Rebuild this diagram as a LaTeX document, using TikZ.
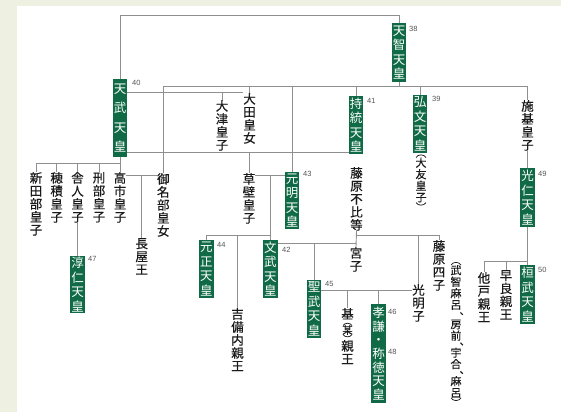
\documentclass[tikz,border=0pt]{standalone}
\usepackage{fontspec}
\usetikzlibrary{calc}
\newfontfamily\cjk{Noto Sans CJK JP}
\newfontfamily\cjkb[FakeBold=0.4]{Noto Sans CJK JP}
\newfontfamily\numfont{Liberation Sans}
\definecolor{boxgreen}{HTML}{0F6A45}
\definecolor{linegray}{HTML}{8F8F8F}
\definecolor{numgray}{HTML}{555555}
\definecolor{bgleft}{HTML}{EEF1E1}
\definecolor{txt}{HTML}{1A1A1A}
\begin{document}
\begin{tikzpicture}[x=1pt,y=-1pt,
  vt/.style={font=\cjkb\fontsize{12.5}{13}\selectfont, align=center, inner sep=0pt, text=txt, anchor=north},
  vts/.style={vt, font=\cjkb\fontsize{11}{11.5}\selectfont},
  commastyle/.style={font=\cjkb\fontsize{10}{10}\selectfont, inner sep=0pt, text=txt, anchor=base west},
  gbox/.style={fill=boxgreen, text=white, font=\cjk\fontsize{12.5}{14.5}\selectfont, align=center, inner sep=0pt, minimum width=14.5pt},
  num/.style={font=\numfont\fontsize{7.5}{8}\selectfont, text=numgray, inner sep=0pt, anchor=west},
  conn/.style={draw=linegray, line width=0.9pt},
  paren/.style={draw=txt, line width=0.75pt}]
\fill[bgleft] (0,0) rectangle (561,412);
\fill[white] (17,6) rectangle (561,412);
\useasboundingbox (0,0) rectangle (561,412);

% level coordinates
\coordinate (ytop) at (0,15);
\coordinate (ybar) at (0,86);
\coordinate (yota) at (0,92);
\coordinate (ytj) at (0,152.5);
\coordinate (ykids) at (0,163);
\coordinate (ytm) at (0,175);
\coordinate (ykg) at (0,175);
\coordinate (ykgk) at (0,235);
\coordinate (yfk) at (0,235);
\coordinate (ymm) at (0,243);
\coordinate (ysk) at (0,290.5);
\coordinate (ykn) at (0,261);

% green boxes
\node[gbox, minimum height=59pt] (tenji) at (399,52.5) {天\\智\\天\\皇};
\node[gbox, minimum height=78pt, font=\cjk\fontsize{12.5}{19.5}\selectfont] (tenmu) at (120,118) {天\\武\\天\\皇};
\node[gbox, minimum height=58pt] (jito) at (356,125) {持\\統\\天\\皇};
\node[gbox, minimum height=58pt] (kobun) at (420,124) {弘\\文\\天\\皇};
\node[gbox, minimum height=57pt] (genmei) at (292,200.5) {元\\明\\天\\皇};
\node[gbox, minimum height=58pt] (gensho) at (206.3,269) {元\\正\\天\\皇};
\node[gbox, minimum height=58pt] (monmu) at (270.3,269) {文\\武\\天\\皇};
\node[gbox, minimum height=58pt] (shomu) at (314,309) {聖\\武\\天\\皇};
\node[gbox, minimum height=99pt, font=\cjk\fontsize{12.5}{13.7}\selectfont] (koken) at (378.5,353.5) {孝\\謙\\・\\称\\徳\\天\\皇};
\node[gbox, minimum height=57pt] (junnin) at (77.5,284.5) {淳\\仁\\天\\皇};
\node[gbox, minimum height=59pt] (konin) at (527.5,197.5) {光\\仁\\天\\皇};
\node[gbox, minimum height=59pt] (kanmu) at (527.5,294.5) {桓\\武\\天\\皇};

% numbers
\node[num] (n38) at (409,29) {38};
\node[num] (n40) at (132,83) {40};
\node[num] (n41) at (367,101) {41};
\node[num] (n39) at (432,99) {39};
\node[num] (n43) at (303,174) {43};
\node[num] (n44) at (217,245) {44};
\node[num] (n42) at (282,250) {42};
\node[num] (n45) at (325,284) {45};
\node[num] (n46) at (388,312) {46};
\node[num] (n48) at (388,352) {48};
\node[num] (n47) at (88,259) {47};
\node[num] (n49) at (538,174) {49};
\node[num] (n50) at (538,270) {50};

% black text
\node[vt] (ota) at (249.5,93) {大\\田\\皇\\女};
\node[vt] (otsu) at (222,100) {大\\津\\皇\\子};
\node[vt] (niitabe) at (36,172) {新\\田\\部\\皇\\子};
\node[vt] (hozumi) at (56.7,172) {穂\\積\\皇\\子};
\node[vt] (toneri) at (77.5,172) {舎\\人\\皇\\子};
\node[vt] (osakabe) at (99,172) {刑\\部\\皇\\子};
\node[vt] (takechi) at (120,172) {高\\市\\皇\\子};
\node[vt] (mina) at (163.3,173) {御\\名\\部\\皇\\女};
\node[vt] (nagaya) at (141.7,238) {長\\屋\\王};
\node[vt] (kusakabe) at (249,173) {草\\壁\\皇\\子};
\node[vt] (kibi) at (237.5,308) {吉\\備\\内\\親\\王};
\node[vt] (fuhito) at (356.5,167) {藤\\原\\不\\比\\等};
\node[vt] (miyako) at (356,247) {宮\\子};
\node[vt] (komyo) at (418.5,284) {光\\明\\子};
\node[vt] (shishi) at (439,240) {藤\\原\\四\\子};
\node[vt] (shiki) at (527.5,100) {施\\基\\皇\\子};
\node[vt] (osabe) at (484,272) {他\\戸\\親\\王};
\node[vt] (sawara) at (506,270) {早\\良\\親\\王};

% (大友皇子)
\node[vts] (otomo) at (421,157.5) {大\\友\\皇\\子};
\draw[paren] ($(otomo.north)+(-5,0)$) .. controls ($(otomo.north)+(-3,-3.5)$) and ($(otomo.north)+(3,-3.5)$) .. ($(otomo.north)+(5,0)$);
\draw[paren] ($(otomo.south)+(-5,0)$) .. controls ($(otomo.south)+(-3,3.5)$) and ($(otomo.south)+(3,3.5)$) .. ($(otomo.south)+(5,0)$);

% (武智麻呂、房前、宇合、麻呂)
\node[vts] (sonsA) at (456,265) {武\\智\\麻\\呂};
\node[vts] (sonsB) at ($(sonsA.south)+(0,9.5)$) {房\\前};
\node[vts] (sonsC) at ($(sonsB.south)+(0,6.5)$) {宇\\合};
\node[vts] (sonsD) at ($(sonsC.south)+(0,6.5)$) {麻\\呂};
\node[commastyle] (c1) at ($(sonsA.south)+(3.5,4.5)$) {\smash{、}};
\node[commastyle] (c2) at ($(sonsB.south)+(3.5,4)$) {\smash{、}};
\node[commastyle] (c3) at ($(sonsC.south)+(3.5,4)$) {\smash{、}};
\draw[paren] ($(sonsA.north)+(-5,0)$) .. controls ($(sonsA.north)+(-3,-3.5)$) and ($(sonsA.north)+(3,-3.5)$) .. ($(sonsA.north)+(5,0)$);
\draw[paren] ($(sonsD.south)+(-5,0)$) .. controls ($(sonsD.south)+(-3,3.5)$) and ($(sonsD.south)+(3,3.5)$) .. ($(sonsD.south)+(5,0)$);

% 基(某)親王
\node[vt] (motoi) at (347.5,308) {基};
\node[vt, font=\cjkb\fontsize{10.5}{11}\selectfont] (bou) at (347.5,325) {某};
\node[vt] (motoiB) at (347.5,340) {親\\王};
\draw[paren] ($(bou.north)+(-4.5,0.5)$) .. controls ($(bou.north)+(-2.5,-2.5)$) and ($(bou.north)+(2.5,-2.5)$) .. ($(bou.north)+(4.5,0.5)$);
\draw[paren] ($(bou.south)+(-4.5,-0.5)$) .. controls ($(bou.south)+(-2.5,2.5)$) and ($(bou.south)+(2.5,2.5)$) .. ($(bou.south)+(4.5,-0.5)$);

% connectors
\draw[conn] (tenmu.north) |- (tenji.north |- ytop) -- (tenji.north);
\draw[conn] (tenji.south) -- (tenji.south |- ybar);
\draw[conn] (mina.north) |- (shiki.north |- ybar) -- (shiki.north);
\foreach \n in {ota,genmei,jito,kobun} \draw[conn] (\n.north) -- (\n.north |- ybar);
\draw[conn] (tenmu.east |- yota) -- (ota.west |- yota);
\draw[conn] (otsu.north) -- (otsu.north |- yota);
\draw[conn] (tenmu.east |- ytj) -- (jito.west |- ytj);
\draw[conn] (kusakabe.north) -- (kusakabe.north |- ytj);
\draw[conn] (tenmu.south) -- (takechi.north);
\draw[conn] (niitabe.north) |- (takechi.north |- ykids);
\foreach \n in {hozumi,toneri,osakabe} \draw[conn] (\n.north) -- (\n.north |- ykids);
\draw[conn] (toneri.south) -- (junnin.north);
\draw[conn] (takechi.east |- ytm) -- (mina.west |- ytm);
\draw[conn] (nagaya.north) -- (nagaya.north |- ytm);
\draw[conn] (kusakabe.east |- ykg) -- (genmei.west |- ykg);
\draw[conn] (monmu.north) -- (monmu.north |- ykg);
\draw[conn] (gensho.north) |- (monmu.north |- ykgk);
\draw[conn] (kibi.north) -- (kibi.north |- ykgk);
\draw[conn] (fuhito.south) -- (miyako.north);
\draw[conn] (fuhito.south |- yfk) -| (shishi.north);
\draw[conn] (komyo.north) -- (komyo.north |- yfk);
\draw[conn] (monmu.east |- ymm) -- (miyako.north |- ymm);
\draw[conn] (shomu.north) -- (shomu.north |- ymm);
\draw[conn] (shomu.east |- ysk) -- (komyo.west |- ysk);
\draw[conn] (motoi.north) -- (motoi.north |- ysk);
\draw[conn] (koken.north) -- (koken.north |- ysk);
\draw[conn] (shiki.south) -- (konin.north);
\draw[conn] (konin.south) -- (kanmu.north);
\draw[conn] (osabe.north) |- (kanmu.north |- ykn);
\draw[conn] (sawara.north) -- (sawara.north |- ykn);
\end{tikzpicture}
\end{document}
